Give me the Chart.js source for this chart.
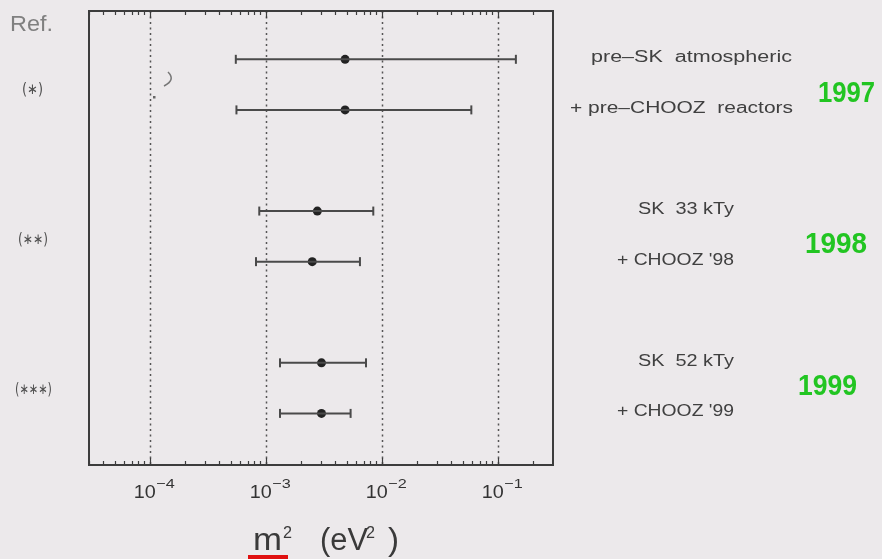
<!DOCTYPE html>
<html>
<head>
<meta charset="utf-8">
<script src="https://cdn.jsdelivr.net/npm/chart.js@4.4.0/dist/chart.umd.min.js"></script>
<style>
  html, body { margin: 0; padding: 0; background: #ece9eb; }
  #wrap { width: 882px; height: 559px; }
</style>
</head>
<body>
<div id="wrap"><canvas id="dmChart" width="882" height="559"></canvas></div>
<script>
// data (delta m^2 in eV^2)
const rowPos = [8, 7, 5, 4, 2, 1];
const bestFit = [4.84e-3, 4.84e-3, 2.79e-3, 2.52e-3, 3.03e-3, 3.03e-3];
const lowerLimit = [5.53e-4, 5.60e-4, 8.81e-4, 8.26e-4, 1.33e-3, 1.33e-3];
const upperLimit = [0.1436, 0.0593, 8.47e-3, 6.50e-3, 7.33e-3, 5.40e-3];
const rowLabels = ["pre\u2013SK  atmospheric", "+ pre\u2013CHOOZ  reactors",
                   "SK  33 kTy", "+ CHOOZ '98", "SK  52 kTy", "+ CHOOZ '99"];
const refLabels = ["(\u2217)", "(\u2217\u2217)", "(\u2217\u2217\u2217)"];
const yearLabels = ["1997", "1998", "1999"];
const decadeTicks = [1e-4, 1e-3, 1e-2, 1e-1];
const tickExponents = ["\u22124", "\u22123", "\u22122", "\u22121"];

// text placement (pixels)
const rowLabelX = [[591, 792], [570, 793], [638, 734], [617, 734], [638, 734], [617, 734]];
const refLabelPos = [[22, 43, 90], [18, 48, 240], [15, 52, 390]];
const yearPos = [[818, 875, 102], [805, 867, 253], [798, 857, 395]];

const BG = "#ece9eb";
const INK = "#3c3c3c";

// draw text squeezed/stretched to fill x0..x1
function fitText(ctx, text, x0, x1, y, font, color) {
    ctx.save();
    ctx.font = font;
    ctx.fillStyle = color;
    const w = ctx.measureText(text).width;
    ctx.translate(x0, y);
    ctx.scale((x1 - x0) / w, 1);
    ctx.fillText(text, 0, 0);
    ctx.restore();
}

// error bar rows: one line dataset per row, caps drawn as rotated line points
const barSets = rowPos.map((r, i) => ({
    type: "line",
    data: [{ x: lowerLimit[i], y: r }, { x: upperLimit[i], y: r }],
    borderColor: "#4a4a4a",
    borderWidth: 2,
    pointStyle: "line",
    rotation: 90,
    pointRadius: 4.5,
    pointBorderWidth: 2,
    pointBorderColor: "#4a4a4a",
    fill: false
}));

const centerSet = {
    type: "scatter",
    data: rowPos.map((r, i) => ({ x: bestFit[i], y: r })),
    pointStyle: "circle",
    pointRadius: 4.5,
    backgroundColor: "#222",
    borderColor: "#222",
    borderWidth: 0
};

const decorPlugin = {
    id: "decor",
    beforeDraw(chart) {
        const ctx = chart.ctx;
        ctx.save();
        ctx.fillStyle = BG;
        ctx.fillRect(0, 0, chart.width, chart.height);
        ctx.restore();
    },
    beforeDatasetsDraw(chart) {
        const { ctx, chartArea: a, scales: { x } } = chart;
        ctx.save();
        ctx.strokeStyle = "#555";
        ctx.lineWidth = 1.5;
        ctx.setLineDash([2, 3.5]);
        decadeTicks.forEach(v => {
            const px = Math.round(x.getPixelForValue(v)) + 0.5;
            ctx.beginPath();
            ctx.moveTo(px, a.top);
            ctx.lineTo(px, a.bottom);
            ctx.stroke();
        });
        ctx.restore();
    },
    afterDraw(chart) {
        const { ctx, chartArea: a, scales: { x, y } } = chart;
        ctx.save();
        // frame
        ctx.strokeStyle = INK;
        ctx.lineWidth = 2;
        ctx.strokeRect(a.left, a.top, a.right - a.left, a.bottom - a.top);

        // log tick marks, inward, top and bottom
        ctx.lineWidth = 1.2;
        for (let d = -5; d <= -1; d++) {
            for (let m = 1; m <= 9; m++) {
                const v = m * Math.pow(10, d);
                if (v < x.min || v > x.max) continue;
                const px = Math.round(x.getPixelForValue(v)) + 0.5;
                const len = m === 1 ? 7 : 4;
                ctx.beginPath();
                ctx.moveTo(px, a.bottom);
                ctx.lineTo(px, a.bottom - len);
                ctx.moveTo(px, a.top);
                ctx.lineTo(px, a.top + len);
                ctx.stroke();
            }
        }

        // tick labels 10^n
        decadeTicks.forEach((v, i) => {
            const px = x.getPixelForValue(v);
            fitText(ctx, "10", px - 16, px + 6, 498, "19px 'Liberation Sans'", "#333");
            fitText(ctx, tickExponents[i], px + 6.5, px + 25, 488, "13px 'Liberation Sans'", "#333");
        });

        // axis title
        const tf = "31px 'Liberation Sans'";
        const sf = "16px 'Liberation Sans'";
        fitText(ctx, "m", 253, 282, 550, tf, "#3a3a3a");
        fitText(ctx, "2", 283, 292, 538, sf, "#3a3a3a");
        fitText(ctx, "(eV", 320, 368, 550, tf, "#3a3a3a");
        fitText(ctx, "2", 366, 375, 538, sf, "#3a3a3a");
        fitText(ctx, ")", 388, 399, 550, tf, "#3a3a3a");
        ctx.fillStyle = "#e01010";
        ctx.fillRect(248, 555, 40, 4);

        // row labels on the right
        rowLabels.forEach((t, i) => {
            const py = y.getPixelForValue(rowPos[i]);
            fitText(ctx, t, rowLabelX[i][0], rowLabelX[i][1], py + 3, "16px 'Liberation Sans'", "#404040");
        });

        // year tags
        yearLabels.forEach((t, i) => {
            fitText(ctx, t, yearPos[i][0], yearPos[i][1], yearPos[i][2], "bold 30px 'Liberation Sans'", "#22c522");
        });

        // reference marks on the left
        fitText(ctx, "Ref.", 10, 53, 31, "22px 'Liberation Sans'", "#808080");
        ctx.textBaseline = "middle";
        refLabels.forEach((t, i) => {
            fitText(ctx, t, refLabelPos[i][0], refLabelPos[i][1], refLabelPos[i][2], "15px 'DejaVu Sans'", "#505050");
        });

        // small pen mark near the 1e-4 line
        ctx.strokeStyle = "#777";
        ctx.lineWidth = 1.5;
        ctx.beginPath();
        ctx.moveTo(168, 72);
        ctx.quadraticCurveTo(176, 80, 164, 86);
        ctx.stroke();
        ctx.fillStyle = "#666";
        ctx.fillRect(153, 96, 2.5, 2.5);
        ctx.restore();
    }
};

new Chart(document.getElementById("dmChart"), {
    data: { datasets: [...barSets, centerSet] },
    options: {
        responsive: false,
        devicePixelRatio: 1,
        animation: false,
        events: [],
        layout: { autoPadding: false, padding: { left: 89, right: 329, top: 11, bottom: 94 } },
        plugins: { legend: { display: false }, tooltip: { enabled: false } },
        scales: {
            x: { type: "logarithmic", min: 3e-5, max: 0.3, display: false },
            y: { type: "linear", min: -0.02, max: 8.955, display: false }
        }
    },
    plugins: [decorPlugin]
});
</script>
</body>
</html>
